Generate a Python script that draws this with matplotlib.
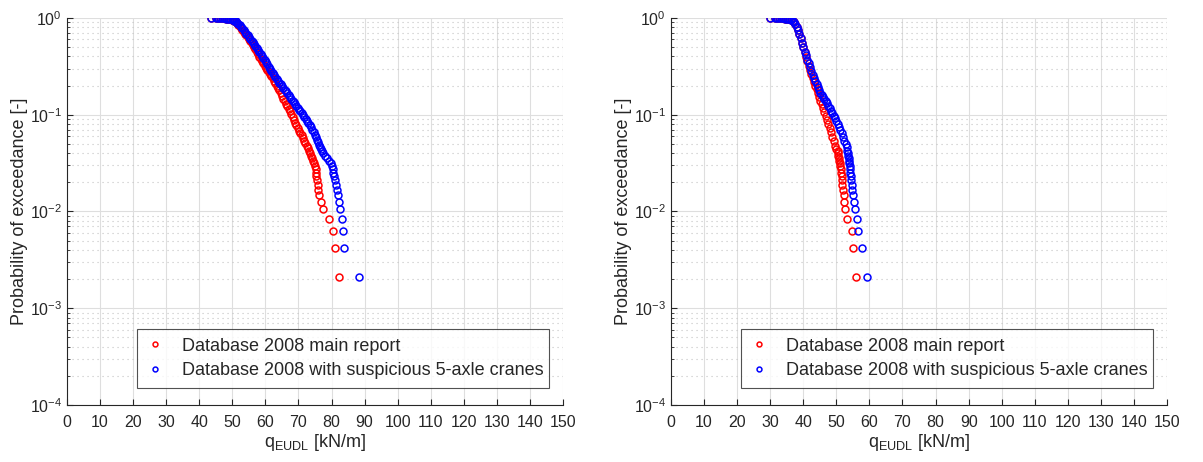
import numpy as np
import matplotlib.pyplot as plt
from matplotlib.ticker import LogLocator, NullFormatter

plt.rcParams["font.family"] = ["Liberation Sans", "DejaVu Sans"]
plt.rcParams["mathtext.fontset"] = "custom"
plt.rcParams["mathtext.rm"] = "Liberation Sans"
plt.rcParams["mathtext.default"] = "regular"

# left panel: q_EUDL [kN/m] and probability of exceedance
left_red_q = [43.4, 45.0, 45.6, 46.2, 46.8, 47.4, 48.0, 48.6, 49.2, 49.8, 50.2,
              50.6, 51.0, 51.4, 51.8, 52.2, 52.6, 53.0, 53.4, 53.8, 54.2, 54.6, 55.0,
              55.4, 55.8, 56.2, 56.6, 57.0, 57.4, 57.8, 58.2, 58.6, 59.0, 59.4, 59.8,
              60.2, 60.6, 61.0, 61.4, 61.8, 62.2, 62.6, 63.0, 63.4, 63.8, 64.2, 64.6,
              65.0, 65.4, 65.8, 66.2, 66.6, 67.0, 67.4, 67.8, 68.2, 68.6, 69.0, 69.4,
              69.8, 70.2, 70.6, 71.0, 71.4, 71.75, 72.1, 72.45, 72.8,
              73.2, 73.5, 73.8, 74.1, 74.4, 74.7, 75.0, 75.15, 75.3, 75.45, 75.6,
              75.8, 76.0, 76.2, 76.8, 77.4, 79.2, 80.5, 81.0, 82.3]
left_red_p = [1.0, 0.998, 0.996, 0.994, 0.992, 0.99, 0.986, 0.981, 0.973, 0.96, 0.948,
              0.932, 0.91, 0.885, 0.855, 0.825, 0.79, 0.755, 0.72, 0.69, 0.66, 0.63, 0.60,
              0.575, 0.55, 0.525, 0.50, 0.475, 0.45, 0.42, 0.397, 0.375, 0.357, 0.34, 0.322,
              0.305, 0.29, 0.275, 0.262, 0.25, 0.237, 0.225, 0.212, 0.20, 0.189, 0.178, 0.166,
              0.155, 0.146, 0.138, 0.13, 0.122, 0.115, 0.108, 0.101, 0.095, 0.089, 0.083, 0.078,
              0.073, 0.068, 0.064, 0.061, 0.057, 0.054, 0.051, 0.048, 0.045,
              0.042, 0.0399, 0.0378, 0.0357, 0.0336, 0.0315, 0.0294, 0.0273, 0.0252, 0.0231, 0.021,
              0.0189, 0.0168, 0.0147, 0.0126, 0.0105, 0.0084, 0.0063, 0.0042, 0.0021]

left_blue_q = [43.4, 45.0, 45.6, 46.2, 46.8, 47.4, 48.0, 48.6, 49.2, 49.8, 50.2,
               50.6, 51.0, 51.4, 51.8, 52.2, 52.6, 53.0, 53.4, 53.8, 54.2, 54.6, 55.0,
               55.4, 55.8, 56.2, 56.6, 57.0, 57.4, 57.8, 58.2, 58.6, 59.0, 59.4, 59.8,
               60.2, 60.6, 61.0, 61.4, 61.8, 62.2, 62.6, 63.0, 63.4, 63.8, 64.2, 64.6,
               65.0, 65.4, 65.8, 66.2, 66.6, 67.0, 67.4, 67.8, 68.2, 68.6, 69.0, 69.4,
               69.8, 70.2, 70.6, 71.0, 71.4, 71.8, 72.2, 72.6, 73.0, 73.4, 73.8, 74.2,
               74.6, 75.0, 75.3, 75.6, 75.9, 76.2, 76.5, 76.8,
               77.1, 77.4, 77.9, 78.6, 79.3, 79.9, 80.1, 80.3, 80.5, 80.7, 80.9,
               81.2, 81.6, 82.0, 82.3, 82.6, 83.2, 83.5, 83.9, 88.3]
left_blue_p = [1.0, 0.998, 0.996, 0.994, 0.992, 0.99, 0.987, 0.983, 0.977, 0.966, 0.955,
               0.94, 0.92, 0.895, 0.868, 0.84, 0.81, 0.78, 0.75, 0.72, 0.69, 0.66, 0.635,
               0.61, 0.585, 0.56, 0.537, 0.515, 0.49, 0.465, 0.445, 0.425, 0.405, 0.385, 0.367,
               0.35, 0.332, 0.315, 0.30, 0.285, 0.272, 0.26, 0.247, 0.235, 0.225, 0.215, 0.206,
               0.198, 0.19, 0.182, 0.174, 0.166, 0.159, 0.152, 0.146, 0.14, 0.134, 0.128, 0.123,
               0.118, 0.113, 0.108, 0.103, 0.099, 0.094, 0.09, 0.086, 0.082, 0.078, 0.074, 0.07,
               0.066, 0.062, 0.059, 0.055, 0.052, 0.049, 0.046, 0.044,
               0.042, 0.0399, 0.0378, 0.0357, 0.0336, 0.0315, 0.0294, 0.0273, 0.0252, 0.0231, 0.021,
               0.0189, 0.0168, 0.0147, 0.0126, 0.0105, 0.0084, 0.0063, 0.0042, 0.0021]

# right panel
right_red_q = [30.0, 31.4, 32.0, 32.6, 33.2, 33.8, 34.4, 35.0, 35.6, 36.2, 36.8,
               37.2, 37.6, 38.0, 38.4, 38.8, 39.2, 39.6, 40.0, 40.4, 40.8, 41.2, 41.6,
               42.0, 42.4, 42.8, 43.2, 43.6, 44.0, 44.4, 44.8, 45.2, 45.6, 46.0, 46.4,
               46.8, 47.2, 47.6, 48.0, 48.4, 48.8, 49.2, 49.6, 50.0,
               50.35, 50.5, 50.6, 50.75, 50.9, 51.05, 51.2, 51.35, 51.5, 51.6, 51.7,
               51.85, 52.0, 52.2, 52.4, 52.6, 53.1, 54.6, 55.1, 55.9]
right_red_p = [1.0, 0.998, 0.996, 0.994, 0.992, 0.99, 0.987, 0.982, 0.975, 0.96, 0.935,
               0.905, 0.865, 0.815, 0.76, 0.69, 0.62, 0.555, 0.50, 0.44, 0.395, 0.355, 0.32,
               0.29, 0.263, 0.24, 0.22, 0.20, 0.183, 0.168, 0.153, 0.14, 0.128, 0.117, 0.107,
               0.097, 0.088, 0.080, 0.073, 0.066, 0.059, 0.053, 0.048, 0.044,
               0.042, 0.0399, 0.0378, 0.0357, 0.0336, 0.0315, 0.0294, 0.0273, 0.0252, 0.0231, 0.021,
               0.0189, 0.0168, 0.0147, 0.0126, 0.0105, 0.0084, 0.0063, 0.0042, 0.0021]

right_blue_q = [30.0, 31.4, 32.0, 32.6, 33.2, 33.8, 34.4, 35.0, 35.6, 36.2, 36.8,
                37.2, 37.6, 38.0, 38.4, 38.8, 39.2, 39.6, 40.0, 40.4, 40.8, 41.2, 41.6,
                42.0, 42.4, 42.8, 43.2, 43.6, 44.0, 44.4, 44.8, 45.2, 45.6, 46.0, 46.4,
                46.8, 47.2, 47.6, 48.0, 48.4, 48.8, 49.2, 49.6, 50.0, 50.4, 50.8, 51.2,
                51.6, 52.0, 52.4, 52.8, 53.1,
                53.3, 53.5, 53.6, 53.7, 53.8, 53.9, 54.0, 54.1, 54.2, 54.35, 54.5,
                54.6, 54.8, 55.0, 55.2, 55.7, 56.2, 56.4, 57.7, 59.4]
right_blue_p = [1.0, 0.998, 0.996, 0.994, 0.992, 0.99, 0.987, 0.982, 0.975, 0.96, 0.935,
                0.905, 0.865, 0.815, 0.76, 0.69, 0.62, 0.555, 0.50, 0.45, 0.41, 0.372, 0.34,
                0.31, 0.283, 0.26, 0.24, 0.222, 0.206, 0.192, 0.18, 0.169, 0.16, 0.152, 0.147,
                0.139, 0.131, 0.124, 0.117, 0.11, 0.103, 0.097, 0.092, 0.087, 0.081, 0.075, 0.069,
                0.064, 0.059, 0.054, 0.05, 0.046,
                0.042, 0.0399, 0.0378, 0.0357, 0.0336, 0.0315, 0.0294, 0.0273, 0.0252, 0.0231, 0.021,
                0.0189, 0.0168, 0.0147, 0.0126, 0.0105, 0.0084, 0.0063, 0.0042, 0.0021]

labels = ["Database 2008 main report", "Database 2008 with suspicious 5-axle cranes"]
x_ticks = list(range(0, 151, 10))

txt_col = "#262626"

fig = plt.figure(figsize=(12.03, 4.62), dpi=100)
ax1 = fig.add_axes([0.0557, 0.1234, 0.4123, 0.8377])
ax2 = fig.add_axes([0.5578, 0.1234, 0.4123, 0.8377])

panels = [(ax1, left_red_q, left_red_p, left_blue_q, left_blue_p),
          (ax2, right_red_q, right_red_p, right_blue_q, right_blue_p)]

for ax, rq, rp, bq, bp in panels:
    ax.plot(rq, rp, "o", mfc="none", mec="red", ms=5.0, mew=1.1, ls="none", label=labels[0])
    ax.plot(bq, bp, "o", mfc="none", mec="blue", ms=5.0, mew=1.1, ls="none", label=labels[1])
    ax.set_yscale("log")
    ax.set_xlim(0, 150)
    ax.set_ylim(1e-4, 1)
    ax.set_xticks(x_ticks)
    ax.yaxis.set_major_locator(LogLocator(base=10, numticks=10))
    ax.yaxis.set_minor_locator(LogLocator(base=10, subs=np.arange(2, 10), numticks=20))
    ax.yaxis.set_minor_formatter(NullFormatter())

    ax.grid(True, which="major", color="#dedede", lw=0.8, ls="-")
    ax.grid(True, which="minor", axis="y", color="#c4c4c4", lw=0.8, ls=(0, (1, 3.5)))
    ax.set_axisbelow(True)

    for s in ["top", "right"]:
        ax.spines[s].set_visible(False)
    for s in ["left", "bottom"]:
        ax.spines[s].set_color(txt_col)
        ax.spines[s].set_linewidth(0.8)
    ax.tick_params(which="both", direction="in", colors=txt_col, labelsize=11.5)
    ax.tick_params(which="major", length=4)
    ax.tick_params(which="minor", length=2)
    ax.tick_params(axis="x", pad=7)

    ax.set_xlabel(r"q$_{\mathregular{EUDL}}$ [kN/m]", fontsize=13, color=txt_col, labelpad=2)
    ax.set_ylabel("Probability of exceedance [-]", fontsize=13, color=txt_col, labelpad=1)

    leg = ax.legend(loc="lower left", bbox_to_anchor=(0.141, 0.044, 0.831, 0.145),
                    mode="expand", fontsize=13, frameon=True, fancybox=False,
                    edgecolor=txt_col, handlelength=1.0, handletextpad=1.0,
                    borderpad=0.5, labelspacing=0.4, borderaxespad=0, markerscale=0.7)
    leg.get_frame().set_linewidth(0.8)
    for t in leg.get_texts():
        t.set_color(txt_col)

fig.savefig("out.png", dpi=100)
